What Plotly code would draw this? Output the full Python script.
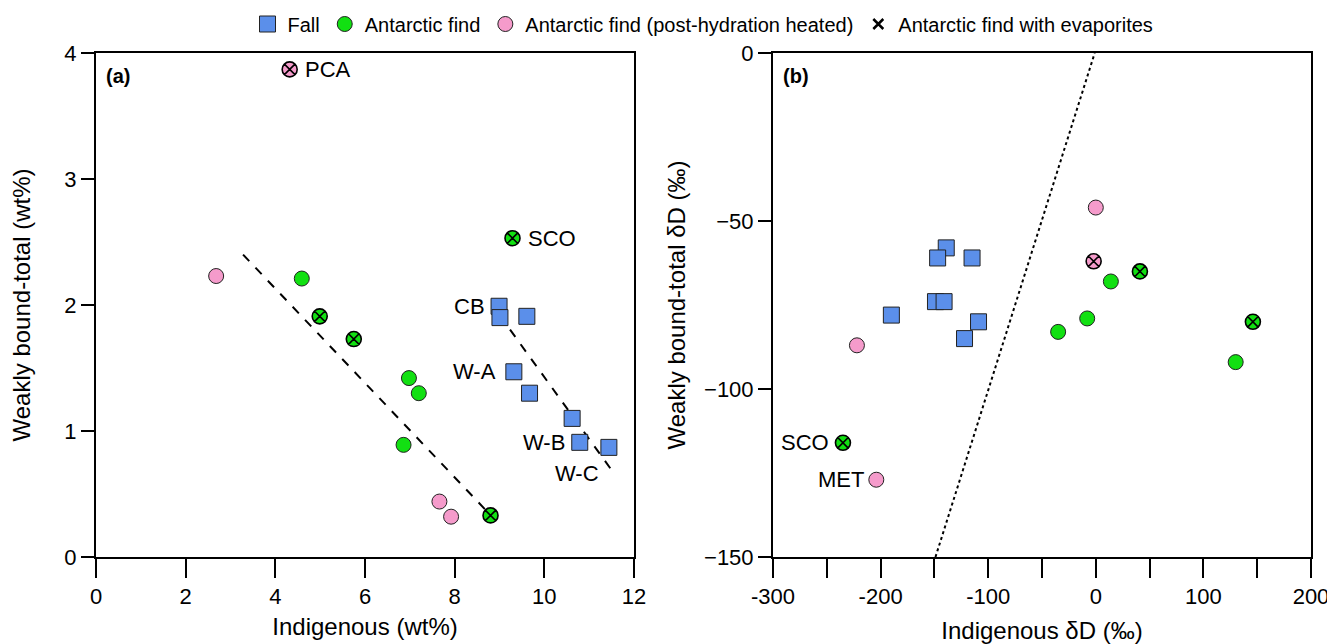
import plotly.graph_objects as go

# ---------------- Panel (a): Weakly bound-total vs Indigenous (wt%) ----------------
a_fall_x = [8.99, 9.01, 9.61, 9.32, 9.67, 10.62, 10.79, 11.44]
a_fall_y = [1.99, 1.90, 1.91, 1.47, 1.30, 1.10, 0.91, 0.87]

a_ant_x = [4.59, 6.98, 7.20, 6.86]
a_ant_y = [2.21, 1.42, 1.30, 0.89]

a_heat_x = [2.68, 7.66, 7.92]
a_heat_y = [2.23, 0.44, 0.32]

a_evap_x = [9.29, 4.99, 5.75, 8.80]          # Antarctic find with evaporites
a_evap_y = [2.53, 1.91, 1.73, 0.33]

a_heat_evap_x = [4.32]                        # heated + evaporites (PCA)
a_heat_evap_y = [3.87]

a_trend1_x = [3.28, 8.70]
a_trend1_y = [2.40, 0.37]
a_trend2_x = [9.00, 11.50]
a_trend2_y = [1.92, 0.69]

# labels: (text, x, y of the point it names)
a_labels = [("PCA", 4.32, 3.87), ("SCO", 9.29, 2.53), ("CB", 8.99, 1.99),
            ("W-A", 9.32, 1.47), ("W-B", 10.79, 0.91), ("W-C", 11.44, 0.87)]

# ---------------- Panel (b): Weakly bound-total dD vs Indigenous dD ----------------
b_fall_x = [-190, -109, -122, -139, -147, -115, -149, -141]
b_fall_y = [-78, -80, -85, -58, -61, -61, -74, -74]

b_ant_x = [-35, -8, 14, 130]
b_ant_y = [-83, -79, -68, -92]

b_heat_x = [0, -222, -204]
b_heat_y = [-46, -87, -127]

b_evap_x = [146, -235, 41]
b_evap_y = [-80, -116, -65]

b_heat_evap_x = [-2]
b_heat_evap_y = [-62]

b_line_x = [-149, -1]
b_line_y = [-150, 0]

b_labels = [("SCO", -235, -116), ("MET", -204, -127)]

# axis ticks
a_xticks = [0, 2, 4, 6, 8, 10, 12]
a_yticks = [0, 1, 2, 3, 4]
b_xticks = [-300, -250, -200, -150, -100, -50, 0, 50, 100, 150, 200]
b_xticklabels = ["-300", "", "-200", "", "-100", "", "0", "", "100", "", "200"]
b_yticks = [0, -50, -100, -150]

# ---------------- styling ----------------
FONT = "Liberation Sans, Arial, sans-serif"
BLUE = "#5B8FEA"
GREEN = "#12E012"
PINK = "#F59BCB"
EDGE = "#222222"

# page body has an 8px margin: size the figure to fit the window
W, H = 1327, 636

fig = go.Figure()

def add_panel(xa, ya, fall, ant, heat, evap, heat_evap, legend):
    fig.add_trace(go.Scatter(x=fall[0], y=fall[1], mode="markers", name="Fall",
                             marker=dict(symbol="square", size=16, color=BLUE,
                                         line=dict(color=EDGE, width=1)),
                             xaxis=xa, yaxis=ya, showlegend=legend, legendgroup="fall"))
    fig.add_trace(go.Scatter(x=ant[0], y=ant[1], mode="markers", name="Antarctic find",
                             marker=dict(symbol="circle", size=15, color=GREEN,
                                         line=dict(color=EDGE, width=1)),
                             xaxis=xa, yaxis=ya, showlegend=legend, legendgroup="ant"))
    fig.add_trace(go.Scatter(x=heat[0], y=heat[1], mode="markers",
                             name="Antarctic find (post-hydration heated)",
                             marker=dict(symbol="circle", size=15, color=PINK,
                                         line=dict(color=EDGE, width=1)),
                             xaxis=xa, yaxis=ya, showlegend=legend, legendgroup="heat"))
    fig.add_trace(go.Scatter(x=evap[0], y=evap[1], mode="markers",
                             name="Antarctic find with evaporites",
                             marker=dict(symbol="circle-x", size=15, color=GREEN,
                                         line=dict(color="black", width=1.6)),
                             xaxis=xa, yaxis=ya, showlegend=False, legendgroup="evap"))
    fig.add_trace(go.Scatter(x=heat_evap[0], y=heat_evap[1], mode="markers",
                             name="Antarctic find (post-hydration heated) with evaporites",
                             marker=dict(symbol="circle-x", size=15, color=PINK,
                                         line=dict(color="black", width=1.6)),
                             xaxis=xa, yaxis=ya, showlegend=False, legendgroup="evap"))

# trend lines (behind markers)
fig.add_trace(go.Scatter(x=a_trend1_x, y=a_trend1_y, mode="lines",
                         line=dict(color="black", width=2, dash="dash"),
                         showlegend=False, hoverinfo="skip", xaxis="x", yaxis="y"))
fig.add_trace(go.Scatter(x=a_trend2_x, y=a_trend2_y, mode="lines",
                         line=dict(color="black", width=2, dash="dash"),
                         showlegend=False, hoverinfo="skip", xaxis="x", yaxis="y"))
fig.add_trace(go.Scatter(x=b_line_x, y=b_line_y, mode="lines",
                         line=dict(color="black", width=2, dash="dot"),
                         showlegend=False, hoverinfo="skip", xaxis="x2", yaxis="y2"))

add_panel("x", "y", (a_fall_x, a_fall_y), (a_ant_x, a_ant_y), (a_heat_x, a_heat_y),
          (a_evap_x, a_evap_y), (a_heat_evap_x, a_heat_evap_y), True)
add_panel("x2", "y2", (b_fall_x, b_fall_y), (b_ant_x, b_ant_y), (b_heat_x, b_heat_y),
          (b_evap_x, b_evap_y), (b_heat_evap_x, b_heat_evap_y), False)

# legend-only entry for the evaporite cross
fig.add_trace(go.Scatter(x=[None], y=[None], mode="markers",
                         name="Antarctic find with evaporites",
                         marker=dict(symbol="x-thin", size=10, color="black",
                                     line=dict(color="black", width=2.5)),
                         showlegend=True, legendgroup="evap"))

LABEL_SIZE = 22
annotations = []
# point labels panel a
a_offsets = {"PCA": ("left", 13, 0), "SCO": ("left", 13, 0), "CB": ("right", -12, 0),
             "W-A": ("right", -16, 0), "W-B": ("right", -13, 0), "W-C": ("right", -8, -26)}
for text, px, py in a_labels:
    anc, dx, dy = a_offsets[text]
    annotations.append(dict(x=px, y=py, xref="x", yref="y", text=text, showarrow=False,
                            xanchor=anc, yanchor="middle", xshift=dx, yshift=dy,
                            font=dict(family=FONT, size=LABEL_SIZE, color="black")))
b_offsets = {"SCO": ("right", -12, 0), "MET": ("right", -10, 0)}
for text, px, py in b_labels:
    anc, dx, dy = b_offsets[text]
    annotations.append(dict(x=px, y=py, xref="x2", yref="y2", text=text, showarrow=False,
                            xanchor=anc, yanchor="middle", xshift=dx, yshift=dy,
                            font=dict(family=FONT, size=LABEL_SIZE, color="black")))
# panel letters
annotations.append(dict(x=0, y=1, xref="x domain", yref="y domain", text="<b>(a)</b>",
                        showarrow=False, xanchor="left", yanchor="top", xshift=8, yshift=-10,
                        font=dict(family=FONT, size=20, color="black")))
annotations.append(dict(x=0, y=1, xref="x2 domain", yref="y2 domain", text="<b>(b)</b>",
                        showarrow=False, xanchor="left", yanchor="top", xshift=8, yshift=-10,
                        font=dict(family=FONT, size=20, color="black")))

axis_common = dict(showline=True, linecolor="black", linewidth=2, mirror=True,
                   ticks="outside", tickcolor="black", tickwidth=2,
                   showgrid=False, zeroline=False, automargin=False,
                   tickfont=dict(family=FONT, size=22, color="black"))

TITLE_FONT = dict(family=FONT, size=24, color="black")

YDOM = [(H - 549) / H, (H - 45) / H]

fig.update_layout(
    width=W, height=H,
    margin=dict(l=0, r=0, t=0, b=0, autoexpand=False),
    paper_bgcolor="white", plot_bgcolor="white",
    font=dict(family=FONT, color="black"),
    annotations=annotations,
    legend=dict(orientation="h", x=695 / W, y=1 - 16 / H, xanchor="center", yanchor="middle",
                font=dict(family=FONT, size=20, color="black"), itemsizing="trace",
                bgcolor="rgba(0,0,0,0)"),
    xaxis=dict(domain=[88 / W, 626 / W], range=[0, 12], tickvals=a_xticks, ticklen=19,
               title=dict(text="Indigenous (wt%)", standoff=10, font=TITLE_FONT),
               anchor="y", **axis_common),
    yaxis=dict(domain=YDOM, range=[0, 4], tickvals=a_yticks, ticklen=13,
               title=dict(text="Weakly bound-total (wt%)", standoff=29, font=TITLE_FONT),
               anchor="x", **axis_common),
    xaxis2=dict(domain=[765 / W, 1303 / W], range=[-300, 200], tickvals=b_xticks,
                ticktext=b_xticklabels, ticklen=19,
                title=dict(text="Indigenous δD (‰)", standoff=17, font=TITLE_FONT),
                anchor="y2", **axis_common),
    yaxis2=dict(domain=YDOM, range=[-150, 0], tickvals=b_yticks, ticklen=13,
                title=dict(text="Weakly bound-total δD (‰)", standoff=12, font=TITLE_FONT),
                anchor="x2", **axis_common),
)

fig.write_html("out.html")
